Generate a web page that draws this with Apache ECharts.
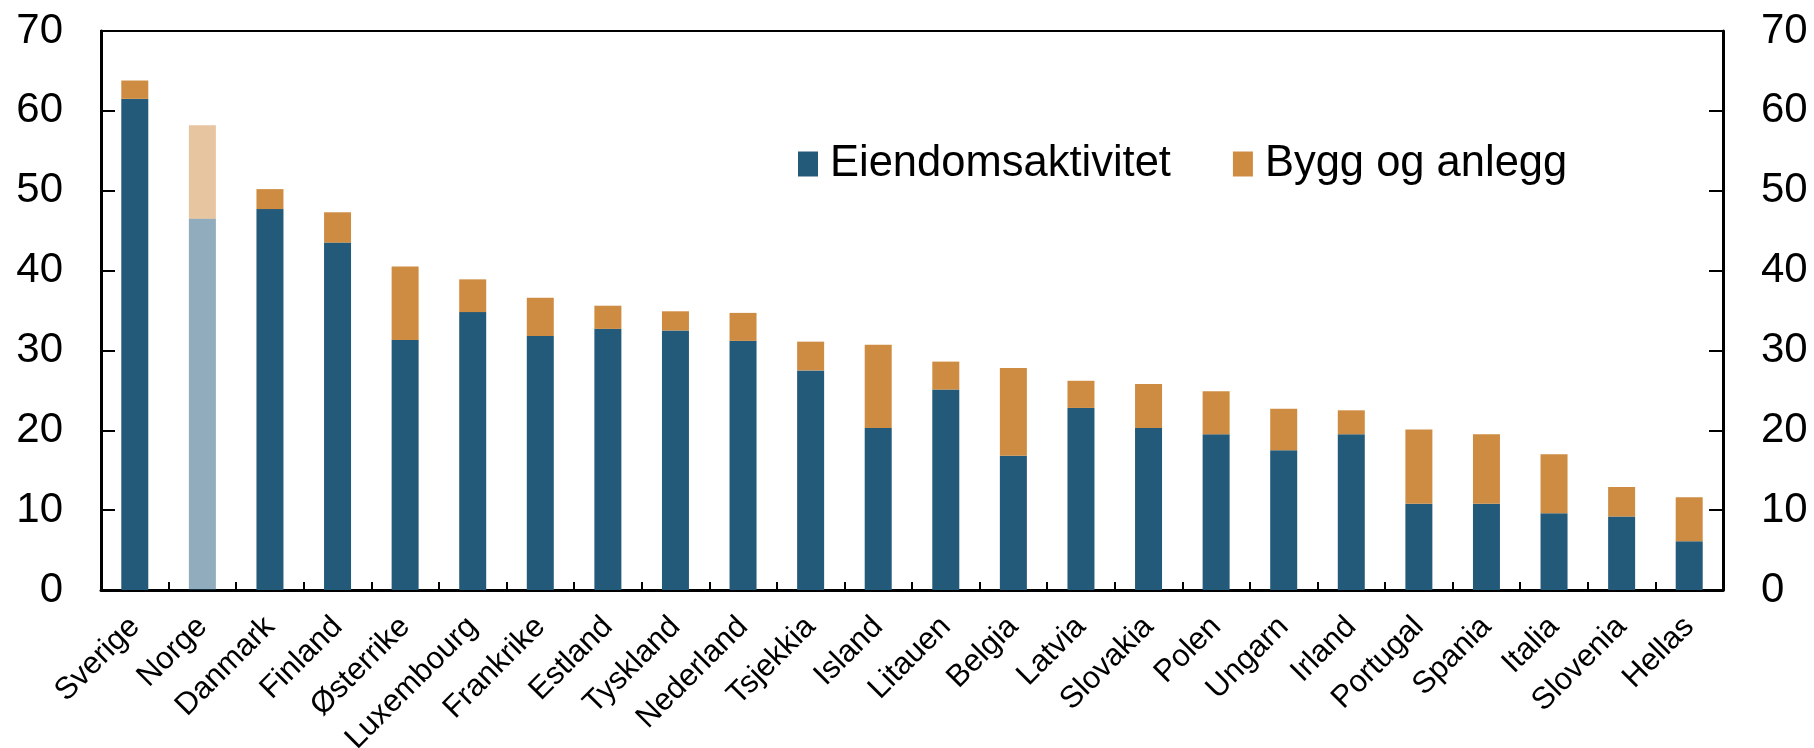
<!DOCTYPE html>
<html>
<head>
<meta charset="utf-8">
<title>Eiendomsaktivitet og bygg og anlegg</title>
<script src="https://cdn.jsdelivr.net/npm/echarts@6/dist/echarts.min.js"></script>
<style>
  html, body { margin: 0; padding: 0; background: #fff; }
  #chart { width: 1814px; height: 748px; }
</style>
</head>
<body>
<div id="chart"></div>
<script>
// values
const countries = ['Sverige', 'Norge', 'Danmark', 'Finland', 'Østerrike', 'Luxembourg', 'Frankrike',
  'Estland', 'Tyskland', 'Nederland', 'Tsjekkia', 'Island', 'Litauen', 'Belgia', 'Latvia',
  'Slovakia', 'Polen', 'Ungarn', 'Irland', 'Portugal', 'Spania', 'Italia', 'Slovenia', 'Hellas']
const eiendom = [61.5, 46.5, 47.7, 43.5, 31.3, 34.8, 31.8, 32.7, 32.5, 31.2, 27.5, 20.3,
  25.1, 16.8, 22.8, 20.3, 19.5, 17.5, 19.5, 10.8, 10.8, 9.6, 9.2, 6.1]
const bygg = [2.3, 11.7, 2.5, 3.8, 9.2, 4.1, 4.8, 2.9, 2.4, 3.5, 3.6, 10.4,
  3.5, 11.0, 3.4, 5.5, 5.4, 5.2, 3.0, 9.3, 8.7, 7.4, 3.7, 5.5]
const yTicks = [0, 10, 20, 30, 40, 50, 60, 70]
const fadedCountry = 'Norge'

const blue = '#235A7A'
const orange = '#CE8C42'
const font = '"Liberation Sans", Arial, sans-serif'

// Norge is drawn faded
function toItems(values) {
  return values.map((v, i) => {
    if (countries[i] === fadedCountry) {
      return { value: v, itemStyle: { opacity: 0.5 } }
    }
    return v
  })
}

const chart = echarts.init(document.getElementById('chart'))

const yAxisBase = {
  type: 'value',
  min: yTicks[0],
  max: yTicks[yTicks.length - 1],
  interval: 10,
  splitLine: { show: false },
  axisLine: { show: true, lineStyle: { color: '#000', width: 3 } },
  axisTick: { show: true, inside: true, length: 14, lineStyle: { color: '#000', width: 2 } },
  axisLabel: { color: '#000', fontSize: 42, fontFamily: font, margin: 38 }
}

chart.setOption({
  animation: false,
  textStyle: { fontFamily: font },
  grid: {
    left: 101,
    right: 91,
    top: 31,
    bottom: 158,
    outerBoundsMode: 'none',
    containLabel: false,
    show: true,
    borderColor: '#000',
    borderWidth: 2
  },
  legend: {
    left: 793,
    top: 137,
    itemWidth: 20,
    itemHeight: 25,
    itemGap: 62,
    icon: 'rect',
    textStyle: { color: '#000', fontSize: 43.5, fontFamily: font, padding: [0, 0, 0, 7] },
    data: ['Eiendomsaktivitet', 'Bygg og anlegg']
  },
  xAxis: [{
    type: 'category',
    data: countries,
    axisLine: { show: true, lineStyle: { color: '#000', width: 3 } },
    axisTick: { show: true, inside: true, length: 8, lineStyle: { color: '#000', width: 2 } },
    axisLabel: {
      color: '#000',
      fontSize: 31,
      fontFamily: font,
      rotate: 45,
      margin: 32,
      interval: 0
    }
  }],
  yAxis: [
    Object.assign({}, yAxisBase, { position: 'left' }),
    Object.assign({}, yAxisBase, { position: 'right' })
  ],
  series: [
    {
      name: 'Eiendomsaktivitet',
      type: 'bar',
      stack: 'total',
      barWidth: 27,
      itemStyle: { color: blue },
      data: toItems(eiendom)
    },
    {
      name: 'Bygg og anlegg',
      type: 'bar',
      stack: 'total',
      barWidth: 27,
      itemStyle: { color: orange },
      data: toItems(bygg)
    }
  ]
})
</script>
</body>
</html>
